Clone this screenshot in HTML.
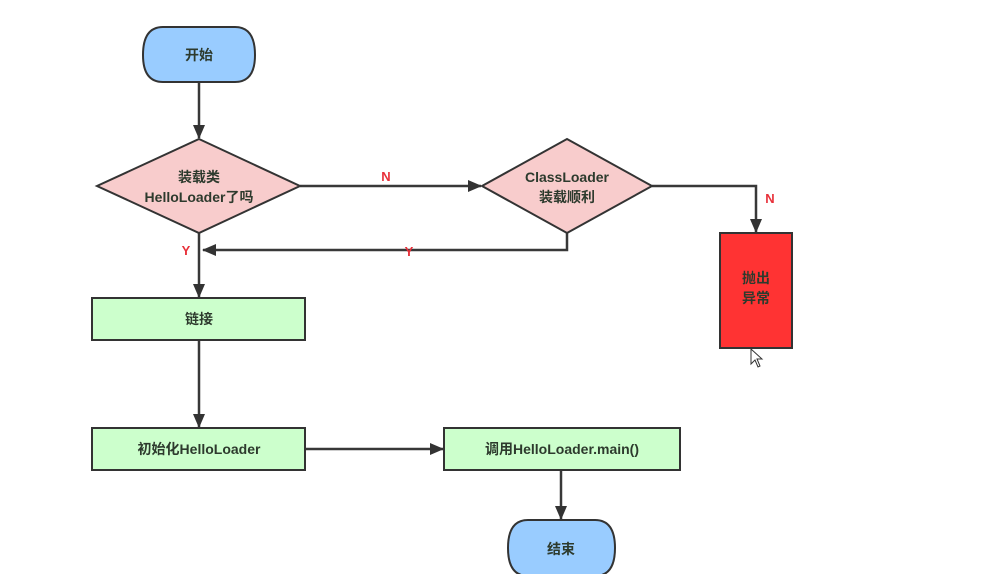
<!DOCTYPE html>
<html><head><meta charset="utf-8"><style>
html,body{margin:0;padding:0;background:#fff;width:990px;height:574px;overflow:hidden}
text{font-family:"Liberation Sans","Noto Sans CJK SC",sans-serif;font-weight:bold;font-size:14px;fill:#2d3a2d}
.r{fill:#e8303a;font-size:13px}
</style></head><body>
<svg width="990" height="574" viewBox="0 0 990 574" xmlns="http://www.w3.org/2000/svg">
<defs><marker id="a" markerWidth="14" markerHeight="12" refX="13" refY="6" orient="auto" markerUnits="userSpaceOnUse"><path d="M0,0 L14,6 L0,12 z" fill="#333"/></marker></defs>
<g stroke="#383838" stroke-width="2.5" fill="none">
<line x1="199" y1="82" x2="199" y2="138" marker-end="url(#a)"/>
<line x1="300" y1="186" x2="481" y2="186" marker-end="url(#a)"/>
<polyline points="652,186 756,186 756,232" marker-end="url(#a)"/>
<polyline points="567,233 567,250 203,250" marker-end="url(#a)"/>
<line x1="199" y1="233" x2="199" y2="297" marker-end="url(#a)"/>
<line x1="199" y1="340" x2="199" y2="427" marker-end="url(#a)"/>
<line x1="305" y1="449" x2="443" y2="449" marker-end="url(#a)"/>
<line x1="561" y1="470" x2="561" y2="519" marker-end="url(#a)"/>
</g>
<g stroke="#333" stroke-width="2">
<path d="M163,27 H235 Q255,27 255,55 Q255,82 235,82 H163 Q143,82 143,55 Q143,27 163,27 z" fill="#99ccff"/>
<polygon points="199,139 300,186 199,233 97,186" fill="#f8cccc"/>
<polygon points="567,139 652,186 567,233 482,186" fill="#f8cccc"/>
<rect x="720" y="233" width="72" height="115" fill="#ff3333"/>
<rect x="92" y="298" width="213" height="42" fill="#ccffcc"/>
<rect x="92" y="428" width="213" height="42" fill="#ccffcc"/>
<rect x="444" y="428" width="236" height="42" fill="#ccffcc"/>
<path d="M528,520 H595 Q615,520 615,548 Q615,576 595,576 H528 Q508,576 508,548 Q508,520 528,520 z" fill="#99ccff"/>
</g>
<g text-anchor="middle">
<text x="199" y="60">开始</text>
<text x="199" y="182">装载类</text>
<text x="199" y="202">HelloLoader了吗</text>
<text x="567" y="182">ClassLoader</text>
<text x="567" y="202">装载顺利</text>
<text x="756" y="283">抛出</text>
<text x="756" y="303">异常</text>
<text x="199" y="324">链接</text>
<text x="199" y="454">初始化HelloLoader</text>
<text x="562" y="454">调用HelloLoader.main()</text>
<text x="561" y="554">结束</text>
<text class="r" x="386" y="181">N</text>
<text class="r" x="770" y="203">N</text>
<text class="r" x="186" y="255">Y</text>
<text class="r" x="409" y="256">Y</text>
</g>
<path d="M751,349 L751,364 L755,360 L758,367 L760,366 L757,359 L762,359 z" fill="#fff" stroke="#333" stroke-width="1"/>
</svg>
</body></html>
